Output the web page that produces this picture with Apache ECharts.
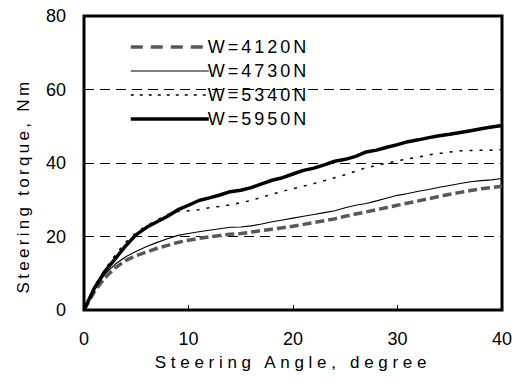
<!DOCTYPE html>
<html><head><meta charset="utf-8">
<script src="https://cdn.jsdelivr.net/npm/echarts@6/dist/echarts.min.js"></script>
<style>html,body{margin:0;padding:0;background:#fff}#c{width:518px;height:378px}</style>
</head><body><div id="c"></div>
<script>
const angles = [0,1,2,3,4,5,6,7,8,9,10,11,12,13,14,15,16,17,18,19,20,21,22,23,24,25,26,27,28,29,30,31,32,33,34,35,36,37,38,39,40];
const w4120 = [0,5,8.8,11.5,13.5,14.8,15.8,16.8,17.6,18.4,19,19.5,19.9,20.3,20.6,20.8,21.2,21.6,22,22.4,22.8,23.3,23.8,24.3,24.8,25.5,26.1,26.7,27.3,27.9,28.5,29.1,29.7,30.3,30.9,31.5,32,32.5,33,33.3,33.7];
const w4730 = [0,5.5,9.8,12.5,14.5,16,17.3,18.4,19.4,20.3,20.8,21.3,21.7,22.1,22.5,22.6,22.9,23.4,24,24.5,25,25.5,26,26.5,27,27.8,28.5,29,29.7,30.5,31.2,31.7,32.3,32.8,33.4,33.9,34.4,34.9,35.2,35.4,35.8];
const w5340 = [0,6.5,11,15,18.5,21,23,24.5,26,26.8,27,27.3,27.8,28.2,28.6,29.2,29.8,30.7,31.5,32.3,33,33.7,34.4,35.2,36,36.8,37.8,38.7,39.3,40,40.6,41.1,41.6,42.2,42.6,43,43.3,43.4,43.5,43.5,43.6];
const w5950 = [0,6,10.5,14,17.5,20.5,22.5,24,25.5,27.3,28.5,29.8,30.5,31.3,32.2,32.6,33.3,34.3,35.3,36,37,38,38.6,39.5,40.5,41,41.8,43,43.5,44.3,45,45.8,46.3,46.9,47.4,47.8,48.3,48.8,49.3,49.8,50.2];
const seriesNames = ['W=4120N','W=4730N','W=5340N','W=5950N'];
const xTitle = 'Steering Angle, degree';
const yTitle = 'Steering torque, Nm';

const styles = [
  {color:'#585858',width:3.5,type:[9,4],legendType:[12,8]},
  {color:'#000',width:1.1,type:'solid',legendType:'solid'},
  {color:'#000',width:1.5,type:[3,7],legendType:[3,6]},
  {color:'#000',width:3.5,type:'solid',legendType:'solid'}
];
const dataSets = [w4120,w4730,w5340,w5950];
const pair = arr => angles.map((a,i)=>[a,arr[i]]);
const chart = echarts.init(document.getElementById('c'), null, {renderer:'svg'});
const font = 'Arial, "Liberation Sans", sans-serif';
chart.setOption({
  animation:false,
  grid:{left:84,right:16,top:16,bottom:68,show:true,borderColor:'#000',borderWidth:3,backgroundColor:'transparent'},
  legend:{
    data:seriesNames.map((n,i)=>({name:n,itemStyle:{opacity:0},
      lineStyle:{color:styles[i].color,width:styles[i].width,type:styles[i].legendType,opacity:1}})),
    orient:'vertical', left:124, top:33, itemWidth:78, itemHeight:10, itemGap:6,
    textStyle:{fontFamily:font,fontSize:18,color:'#000',padding:[0,0,0,-6]}
  },
  xAxis:{type:'value',min:0,max:40,interval:10,
    name:xTitle,nameLocation:'middle',nameGap:44,
    nameTextStyle:{fontFamily:font,fontSize:17,color:'#000'},
    axisLine:{show:false},axisTick:{show:true,inside:true,length:5,lineStyle:{color:'#000',width:1}},
    axisLabel:{fontFamily:font,fontSize:18,color:'#000',margin:20},
    splitLine:{show:false}},
  yAxis:{type:'value',min:0,max:80,interval:20,
    name:yTitle,nameLocation:'middle',nameGap:52,
    nameTextStyle:{fontFamily:font,fontSize:17,color:'#000',padding:[0,46,0,0]},
    axisLine:{show:false},axisTick:{show:false},
    axisLabel:{fontFamily:font,fontSize:18,color:'#000',margin:18},
    splitLine:{show:true,lineStyle:{color:'#000',width:1,type:[10,6]}}},
  series:seriesNames.map((n,i)=>({name:n,type:'line',data:pair(dataSets[i]),symbol:'none',z:[2,3,3,4][i],
    lineStyle:{color:styles[i].color,width:styles[i].width,type:styles[i].type},itemStyle:{color:styles[i].color}}))
});
const spacing = {};
spacing[xTitle] = '4.7px';
spacing[yTitle] = '3.3px';
seriesNames.forEach(n=>spacing[n]='3px');
function applySpacing(){
  document.querySelectorAll('#c svg text').forEach(t=>{
    const s = spacing[t.textContent];
    if (s) t.style.letterSpacing = s;
  });
}
applySpacing();
chart.on('finished', applySpacing);
setTimeout(applySpacing, 50);
</script></body></html>
